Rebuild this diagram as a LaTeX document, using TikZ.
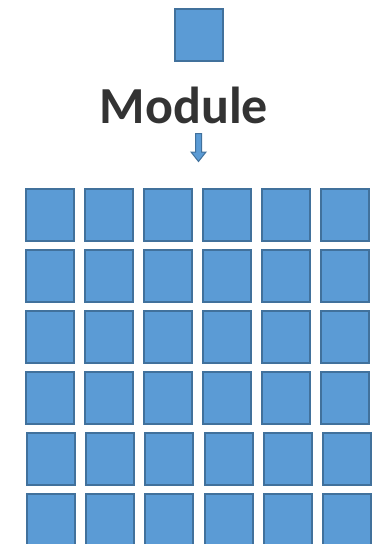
\documentclass[tikz,border=0pt]{standalone}
\usepackage{fontspec}
\setmainfont{Carlito}
\definecolor{modfill}{HTML}{5B9BD5}
\definecolor{modline}{HTML}{41719C}
\definecolor{txt}{HTML}{333333}
\begin{document}
\begin{tikzpicture}[x=1pt,y=-1pt,
  modbox/.style={draw=modline,fill=modfill,line width=2pt,minimum width=48pt,minimum height=52pt,inner sep=0pt,anchor=north west},
  arrowshape/.style={draw=modline,fill=modfill,line width=1pt,line join=miter}]
\useasboundingbox (0,0) rectangle (378,544);
\node[modbox] (top) at (174,8) {};
\node[text=txt,font=\fontsize{52}{60}\selectfont\bfseries,anchor=base] (label) at (184,123) {Module};
% down arrow
\coordinate (a1) at (195.5,133.5);
\coordinate (a2) at (201.5,133.5);
\coordinate (a3) at (201.5,152);
\coordinate (a4) at (206,152);
\coordinate (tip) at (198.5,161.5);
\coordinate (a6) at (191,152);
\coordinate (a7) at (195.5,152);
\draw[arrowshape] (a1) -- (a2) -- (a3) -- (a4) -- (tip) -- (a6) -- (a7) -- cycle;
\foreach \r in {0,1,2,3}{
  \foreach \c in {0,...,5}{
    \node[modbox] (m\r\c) at ({25+59*\c},{188+61*\r}) {};
  }
}
\foreach \r in {4,5}{
  \foreach \c in {0,...,5}{
    \node[modbox] (m\r\c) at ({26+59.2*\c},{188+61*\r}) {};
  }
}
\end{tikzpicture}
\end{document}
